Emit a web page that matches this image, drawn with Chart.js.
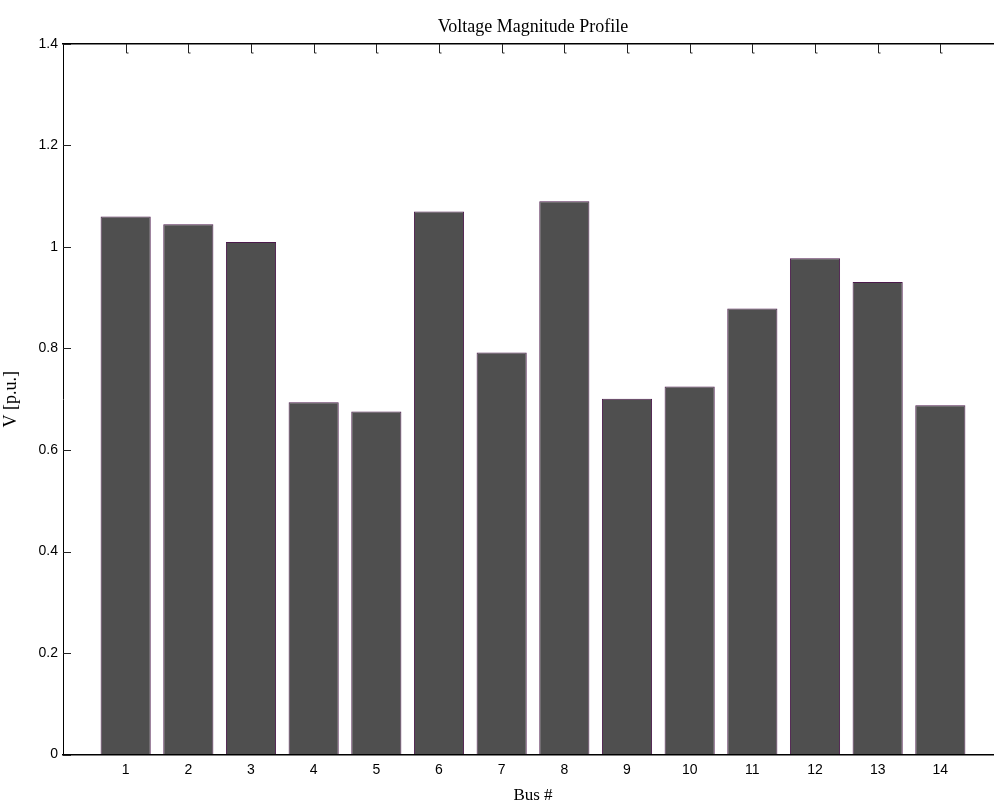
<!DOCTYPE html>
<html>
<head>
<meta charset="utf-8">
<script src="https://cdn.jsdelivr.net/npm/chart.js@4/dist/chart.umd.min.js"></script>
<style>
html,body{margin:0;padding:0;background:#fff;overflow:hidden;}
canvas{display:block;}
</style>
</head>
<body>
<canvas id="c" width="1010" height="806"></canvas>
<script>
const buses = [1,2,3,4,5,6,7,8,9,10,11,12,13,14];
const voltages = [1.06,1.045,1.01,0.694,0.676,1.07,0.792,1.09,0.701,0.725,0.879,0.978,0.931,0.688];
const yTicks = [0,0.2,0.4,0.6,0.8,1,1.2,1.4];
const titleText = 'Voltage Magnitude Profile';
const xLabel = 'Bus #';
const yLabel = 'V [p.u.]';

const innerTicks = {
  id: 'innerTicks',
  afterDraw(chart) {
    const ctx = chart.ctx, a = chart.chartArea;
    const xs = chart.scales.x, ys = chart.scales.y;
    ctx.save();
    ctx.strokeStyle = '#222';
    ctx.lineWidth = 1;
    buses.forEach(b => {
      const px = Math.round(xs.getPixelForValue(b)) + 0.5;
      ctx.beginPath();
      ctx.moveTo(px, a.top);
      ctx.lineTo(px, a.top + 9);
      ctx.lineTo(px + 2, a.top + 9);
      ctx.stroke();
    });
    yTicks.forEach(v => {
      const py = Math.round(ys.getPixelForValue(v)) + 0.5;
      ctx.beginPath();
      ctx.moveTo(a.left, py);
      ctx.lineTo(a.left + 8, py);
      ctx.stroke();
    });
    ctx.restore();
  }
};

new Chart(document.getElementById('c'), {
  type: 'bar',
  data: {
    datasets: [{
      data: buses.map((b, i) => ({x: b, y: voltages[i]})),
      backgroundColor: '#4f4f4f',
      borderColor: '#4b1a4b',
      borderWidth: 1,
      barPercentage: 0.8,
      categoryPercentage: 1.0
    }]
  },
  options: {
    responsive: false,
    animation: false,
    devicePixelRatio: 1,
    layout: {padding: 0},
    plugins: {legend: {display: false}, tooltip: {enabled: false}, title: {display: false}},
    scales: {
      x: {
        type: 'linear', min: 0, max: 15, position: 'bottom', offset: false,
        afterFit: s => { s.height = 51.5; },
        grid: {display: true, drawOnChartArea: false, drawTicks: false, color: '#000'},
        border: {display: true, color: '#000', width: 1.5},
        ticks: {
          stepSize: 1, autoSkip: false, maxRotation: 0, padding: 7,
          color: '#000', font: {family: 'Liberation Sans, Arial', size: 14},
          callback: v => (v >= 1 && v <= 14) ? String(v) : ''
        },
        title: {display: true, text: xLabel, color: '#000', padding: {top: 1, bottom: 0},
          font: {family: 'Liberation Serif, Times New Roman', size: 17}}
      },
      x2: {
        type: 'linear', min: 0, max: 15, position: 'top', offset: false,
        afterFit: s => { s.height = 44; },
        grid: {display: false, drawOnChartArea: false, drawTicks: false},
        border: {display: true, color: '#000', width: 1.5},
        ticks: {display: false},
        title: {display: true, text: titleText, color: '#000', padding: {top: 16, bottom: 0},
          font: {family: 'Liberation Serif, Times New Roman', size: 18}}
      },
      y: {
        min: 0, max: 1.4,
        afterFit: s => { s.width = 63; },
        afterBuildTicks: s => { s.ticks = yTicks.map(v => ({value: v})); },
        grid: {display: true, drawOnChartArea: false, drawTicks: false},
        border: {display: true, color: '#000', width: 1},
        ticks: {
          padding: 5, color: '#000', font: {family: 'Liberation Sans, Arial', size: 14},
          callback: v => String(+v.toFixed(1))
        },
        title: {display: true, text: yLabel, color: '#000', padding: {top: 0, bottom: 2},
          font: {family: 'Liberation Serif, Times New Roman', size: 18}}
      }
    }
  },
  plugins: [innerTicks]
});
</script>
</body>
</html>
